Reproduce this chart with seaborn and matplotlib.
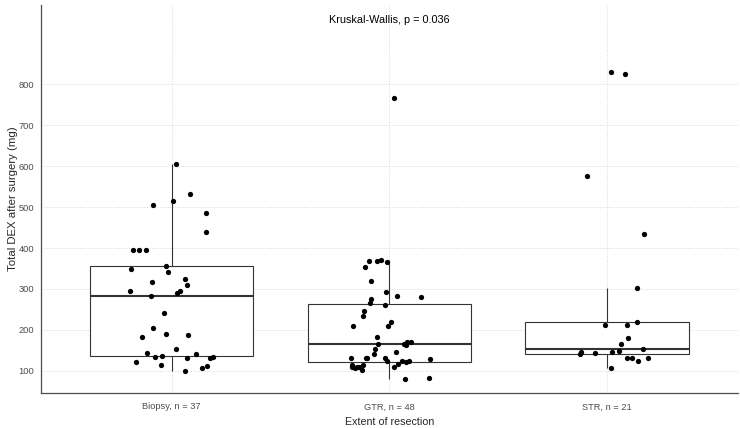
import numpy as np
import pandas as pd
import matplotlib.pyplot as plt
import seaborn as sns

# valores (DEX total apos cirurgia, mg)
grupos = ["Biopsy", "GTR", "STR"]

biopsy = [605, 531, 505, 515, 485, 440, 394, 394, 396, 356, 350, 341, 325,
          318, 310, 295, 295, 289, 284, 241, 204, 188, 190, 182, 154, 140,
          133, 143, 137, 132, 133, 132, 111, 107, 115, 121, 99]
gtr = [766, 368, 354, 372, 365, 369, 320, 293, 280, 282, 276, 266, 262, 246,
       235, 220, 210, 210, 183, 171, 171, 164, 165, 165, 166, 154, 146, 141,
       132, 132, 132, 130, 132, 121, 124, 124, 123, 118, 109, 114, 115, 109,
       108, 110, 110, 101, 83, 79]
str_ = [831, 826, 577, 434, 303, 213, 213, 219, 180, 166, 154, 148, 143, 146,
        146, 141, 132, 132, 132, 124, 108]

titulo = "Kruskal-Wallis, p = 0.036"

valores = [biopsy, gtr, str_]
rotulos = [f"{g}, n = {len(v)}" for g, v in zip(grupos, valores)]
df = pd.DataFrame({
    "grupo": np.repeat(rotulos, [len(v) for v in valores]),
    "dex": np.concatenate(valores),
})

sns.set_style("white")
plt.rcParams["font.family"] = ["Liberation Sans", "DejaVu Sans"]

fig = plt.figure(figsize=(7.4, 4.28), dpi=100)
ax = fig.add_axes([0.0554, 0.0818, 0.9416, 0.906])

sns.boxplot(data=df, x="grupo", y="dex", order=rotulos, width=0.75,
            color="white", linecolor="#333333", linewidth=0.8,
            showfliers=False, showcaps=False,
            medianprops={"linewidth": 1.5}, ax=ax)

np.random.seed(3)
sns.stripplot(data=df, x="grupo", y="dex", order=rotulos, color="black",
              size=3.8, jitter=0.2, ax=ax, zorder=3)

ax.text(1, 958, titulo, ha="center", va="center", fontsize=7.8, color="black")

ax.set_xlim(-0.6, 2.6)
ax.set_ylim(46, 993)
ax.set_yticks(range(100, 900, 100))

ax.grid(True, linestyle=":", color="#d9d9d9", linewidth=0.7)
ax.set_axisbelow(True)

for s in ["top", "right"]:
    ax.spines[s].set_visible(False)
for s in ["left", "bottom"]:
    ax.spines[s].set_color("#4d4d4d")
    ax.spines[s].set_linewidth(0.9)

ax.tick_params(axis="x", pad=4)
ax.tick_params(axis="y", pad=2)
ax.tick_params(axis="both", length=2.75, width=0.6, color="#333333",
               labelcolor="#4d4d4d", labelsize=6.7)

ax.set_xlabel("Extent of resection", fontsize=7.7, labelpad=4)
ax.set_ylabel("Total DEX after surgery (mg)", fontsize=8.2, labelpad=0.5)

fig.savefig("out.png", dpi=100)
